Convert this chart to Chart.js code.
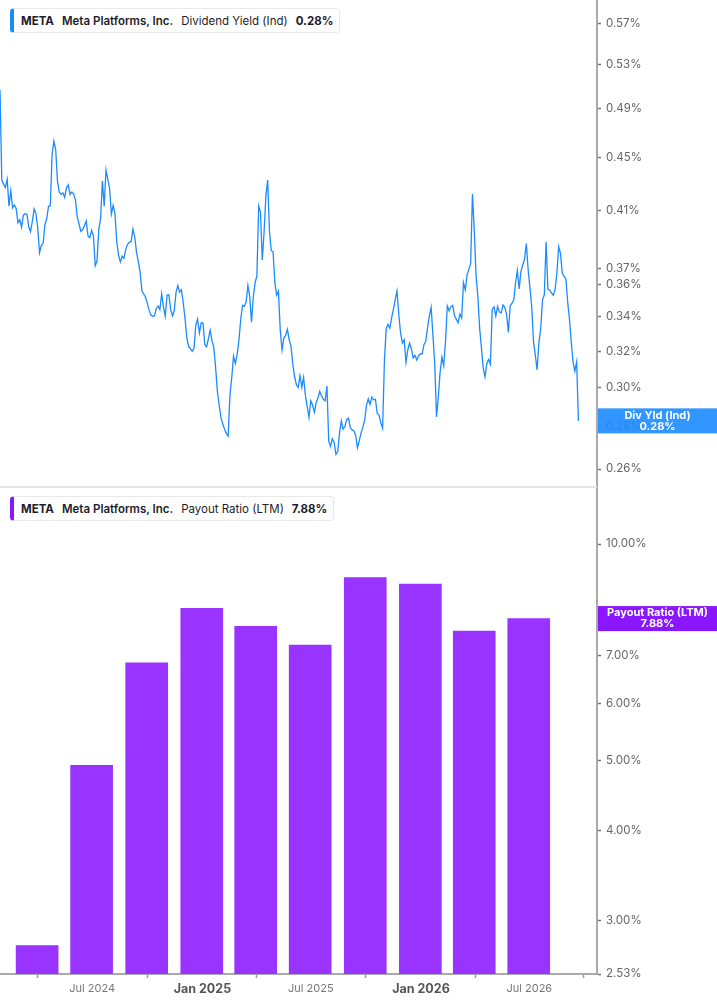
<!DOCTYPE html>
<html>
<head>
<meta charset="utf-8">
<title>META Dividend Yield and Payout Ratio</title>
<script src="https://cdn.jsdelivr.net/npm/chart.js@4.4.1/dist/chart.umd.min.js"></script>
<style>
  html, body { margin: 0; padding: 0; background: #fff; }
  #wrap { position: relative; width: 717px; height: 1005px; overflow: hidden; font-family: Inter, sans-serif; }
  canvas { position: absolute; left: 0; }
  #yieldChart { top: 0; }
  #payoutChart { top: 487px; }
  .sep { position: absolute; left: 0; top: 486px; width: 597px; height: 2px; background: #e3e3e3; }
  .legend {
    position: absolute; left: 10px; height: 25px; box-sizing: border-box;
    display: flex; align-items: center; padding: 0 6px 0 7px;
    background: #fff; border: 1px solid #e8e8e8; border-left: 4px solid; border-radius: 4px;
    font-size: 11.5px; color: #1d1d29; white-space: nowrap;
  }
  .legend span { margin-right: 8px; }
  .legend span:last-child { margin-right: 0; }
  .b { font-weight: 700; }
  .sb { font-weight: 600; }
</style>
</head>
<body>
<div id="wrap">
  <canvas id="yieldChart" width="717" height="487"></canvas>
  <canvas id="payoutChart" width="717" height="518"></canvas>
  <div class="sep"></div>
  <div class="legend" style="top:8px; border-left-color:#1a8cff">
    <span class="b">META</span><span class="sb">Meta Platforms, Inc.</span><span>Dividend Yield (Ind)</span><span class="b">0.28%</span>
  </div>
  <div class="legend" style="top:496px; border-left-color:#8a17ff">
    <span class="b">META</span><span class="sb">Meta Platforms, Inc.</span><span>Payout Ratio (LTM)</span><span class="b">7.88%</span>
  </div>
</div>
<script>
// dividend yield (%), one reading every 3 days from the start date
const yieldStart = '2024-01-29';
const yieldStepDays = 3;
const yieldValues = [
  0.5066, 0.4324, 0.4291, 0.4268, 0.4329, 0.4130, 0.4243, 0.4118, 0.4138, 0.4113,
  0.4011, 0.4032, 0.3980, 0.4065, 0.4075, 0.4071, 0.3982, 0.3948, 0.4021, 0.4110,
  0.4078, 0.3975, 0.3804, 0.3854, 0.3868, 0.3997, 0.4039, 0.4128, 0.4132, 0.4524,
  0.4630, 0.4560, 0.4314, 0.4233, 0.4216, 0.4228, 0.4194, 0.4265, 0.4288, 0.4216,
  0.4233, 0.4219, 0.4176, 0.4051, 0.4002, 0.3951, 0.3961, 0.3989, 0.4023, 0.3918,
  0.3906, 0.3958, 0.3920, 0.3718, 0.3749, 0.3964, 0.4042, 0.4316, 0.4130, 0.4401,
  0.4331, 0.4261, 0.4073, 0.4135, 0.4075, 0.3879, 0.3787, 0.3743, 0.3782, 0.3767,
  0.3827, 0.3861, 0.3875, 0.3879, 0.3966, 0.3913, 0.3807, 0.3745, 0.3677, 0.3556,
  0.3538, 0.3519, 0.3480, 0.3439, 0.3409, 0.3401, 0.3405, 0.3449, 0.3464, 0.3443,
  0.3540, 0.3457, 0.3403, 0.3531, 0.3533, 0.3443, 0.3403, 0.3435, 0.3550, 0.3590,
  0.3550, 0.3564, 0.3484, 0.3389, 0.3275, 0.3226, 0.3213, 0.3198, 0.3215, 0.3350,
  0.3385, 0.3303, 0.3362, 0.3362, 0.3236, 0.3224, 0.3270, 0.3320, 0.3259, 0.3222,
  0.3112, 0.2981, 0.2910, 0.2847, 0.2814, 0.2789, 0.2768, 0.2755, 0.2960, 0.3053,
  0.3172, 0.3131, 0.3177, 0.3261, 0.3383, 0.3468, 0.3462, 0.3488, 0.3592, 0.3523,
  0.3366, 0.3519, 0.3609, 0.3653, 0.4130, 0.4087, 0.3756, 0.3944, 0.4201, 0.4324,
  0.3951, 0.3818, 0.3811, 0.3609, 0.3531, 0.3556, 0.3320, 0.3206, 0.3274, 0.3289,
  0.3324, 0.3264, 0.3226, 0.3127, 0.3057, 0.3016, 0.3002, 0.3064, 0.3002, 0.3055,
  0.2961, 0.2903, 0.2847, 0.2932, 0.2910, 0.2873, 0.2922, 0.2947, 0.2981, 0.2958,
  0.2939, 0.2932, 0.3009, 0.2731, 0.2706, 0.2742, 0.2726, 0.2668, 0.2680, 0.2771,
  0.2830, 0.2789, 0.2802, 0.2837, 0.2844, 0.2797, 0.2785, 0.2781, 0.2757, 0.2699,
  0.2733, 0.2771, 0.2799, 0.2832, 0.2908, 0.2942, 0.2913, 0.2951, 0.2937, 0.2939,
  0.2867, 0.2859, 0.2820, 0.2793, 0.3148, 0.3328, 0.3354, 0.3332, 0.3393, 0.3443,
  0.3504, 0.3556, 0.3411, 0.3303, 0.3245, 0.3264, 0.3137, 0.3206, 0.3245, 0.3213,
  0.3162, 0.3176, 0.3150, 0.3173, 0.3185, 0.3183, 0.3236, 0.3255, 0.3334, 0.3403,
  0.3456, 0.3291, 0.3131, 0.2850, 0.2954, 0.3084, 0.3166, 0.3118, 0.3253, 0.3464,
  0.3435, 0.3459, 0.3468, 0.3407, 0.3385, 0.3363, 0.3415, 0.3391, 0.3609, 0.3564,
  0.3658, 0.3696, 0.3734, 0.4219, 0.3960, 0.3656, 0.3525, 0.3332, 0.3218, 0.3107,
  0.3058, 0.3131, 0.3153, 0.3127, 0.3443, 0.3459, 0.3403, 0.3462, 0.3427, 0.3423,
  0.3470, 0.3456, 0.3413, 0.3307, 0.3465, 0.3482, 0.3501, 0.3609, 0.3688, 0.3570,
  0.3682, 0.3723, 0.3762, 0.3866, 0.3692, 0.3577, 0.3459, 0.3251, 0.3177, 0.3096,
  0.3249, 0.3330, 0.3502, 0.3533, 0.3879, 0.3567, 0.3563, 0.3544, 0.3531, 0.3567,
  0.3671, 0.3845, 0.3800, 0.3671, 0.3649, 0.3634, 0.3490, 0.3385, 0.3251, 0.3139,
  0.3089, 0.3140, 0.2830
];
const yieldTicks = [0.26, 0.28, 0.30, 0.32, 0.34, 0.36, 0.37, 0.41, 0.45, 0.49, 0.53, 0.57];

// payout ratio (LTM, %), quarter ends
const payoutDates = ['2024-03-31', '2024-06-30', '2024-09-30', '2024-12-31', '2025-03-31',
                     '2025-06-30', '2025-09-30', '2025-12-31', '2026-03-31', '2026-06-30'];
const payoutValues = [2.77, 4.93, 6.84, 8.14, 7.69, 7.24, 8.98, 8.80, 7.57, 7.88];
const payoutTicks = [2.53, 3, 4, 5, 6, 7, 8, 10];

const xStart = '2024-01-29';
const xEnd = '2026-10-22';
const xTickDates = ['2024-07-01', '2025-01-01', '2025-07-01', '2026-01-01', '2026-07-01'];
const xTickLabels = ['Jul 2024', 'Jan 2025', 'Jul 2025', 'Jan 2026', 'Jul 2026'];

const DAY = 86400000;
const t0 = Date.parse(yieldStart);
const yieldPoints = yieldValues.map((v, i) => ({ x: t0 + i * yieldStepDays * DAY, y: v }));
const payoutPoints = payoutDates.map((d, i) => ({ x: Date.parse(d), y: payoutValues[i] }));
const xTickTimes = xTickDates.map(d => Date.parse(d));

Chart.defaults.font.family = 'Inter, sans-serif';

function fitRight(scale) {
    scale.width = 120;
    scale.paddingTop = 0;
    scale.paddingBottom = 0;
}

function isJan(ctx) {
    return ctx.tick && xTickLabels[xTickTimes.indexOf(ctx.tick.value)].startsWith('Jan');
}

function yAxis(min, max, tickList) {
    return {
        type: 'logarithmic',
        position: 'right',
        bounds: 'data',   // keep min/max as given, the log ticks would round them
        min: min,
        max: max,
        afterBuildTicks: s => { s.ticks = tickList.map(v => ({ value: v })); },
        afterFit: fitRight,
        ticks: {
            callback: v => Number(v).toFixed(2) + '%',
            color: '#666',
            font: { size: 11.5 },
            padding: 5,
            autoSkip: false
        },
        grid: { drawOnChartArea: false, drawTicks: true, tickLength: 4, tickColor: '#777', tickWidth: 1.5 },
        border: { display: true, color: '#aaa', width: 2 }
    };
}

// coloured value tag sitting on the right axis at the last value
function valueTag(id, title, value, text, color) {
    return {
        id: id,
        afterDraw(chart) {
            const { ctx, chartArea, width } = chart;
            const y = chart.scales.y.getPixelForValue(value);
            const x0 = chartArea.right + 1;
            ctx.save();
            ctx.fillStyle = color;
            ctx.fillRect(x0, y - 12.5, width - x0, 25);
            ctx.fillStyle = '#fff';
            ctx.font = 'bold 11px Inter, sans-serif';
            ctx.textAlign = 'center';
            ctx.textBaseline = 'middle';
            const cx = (x0 + width) / 2;
            ctx.fillText(title, cx, y - 5.5);
            ctx.fillText(text, cx, y + 5.5);
            ctx.restore();
        }
    };
}

new Chart(document.getElementById('yieldChart'), {
    type: 'line',
    data: {
        datasets: [{
            data: yieldPoints,
            borderColor: '#1b8bff',
            borderWidth: 1.3,
            pointRadius: 0,
            pointHoverRadius: 0,
            tension: 0,
            fill: false
        }]
    },
    options: {
        responsive: false,
        animation: false,
        events: [],
        layout: { padding: 0, autoPadding: false },
        plugins: { legend: { display: false }, tooltip: { enabled: false } },
        scales: {
            x: { type: 'linear', min: Date.parse(xStart), max: Date.parse(xEnd), display: false },
            y: yAxis(0.2519, 0.5936, yieldTicks)
        }
    },
    plugins: [valueTag('yieldTag', 'Div Yld (Ind)', yieldValues[yieldValues.length - 1], '0.28%', 'rgba(27,139,255,0.9)')]
});

new Chart(document.getElementById('payoutChart'), {
    type: 'bar',
    data: {
        datasets: [{
            data: payoutPoints,
            backgroundColor: '#9933ff',
            borderWidth: 0,
            barThickness: 42
        }]
    },
    options: {
        responsive: false,
        animation: false,
        events: [],
        layout: { padding: 0, autoPadding: false },
        plugins: { legend: { display: false }, tooltip: { enabled: false } },
        scales: {
            x: {
                type: 'linear',
                min: Date.parse(xStart),
                max: Date.parse(xEnd),
                offset: false,
                afterBuildTicks: s => { s.ticks = xTickTimes.map(v => ({ value: v })); },
                afterFit: s => { s.height = 31; s.paddingLeft = 0; s.paddingRight = 0; },
                ticks: {
                    callback: v => xTickLabels[xTickTimes.indexOf(v)],
                    autoSkip: false,
                    maxRotation: 0,
                    padding: 4,
                    color: c => isJan(c) ? '#555' : '#777',
                    font: c => isJan(c) ? { size: 12.5, weight: 'bold' } : { size: 11 }
                },
                grid: { drawOnChartArea: false, drawTicks: true, tickLength: 4, tickColor: '#999', tickWidth: 1.5 },
                border: { display: true, color: '#aaa', width: 2 }
            },
            y: yAxis(2.53, 12.0, payoutTicks)
        }
    },
    plugins: [valueTag('payoutTag', 'Payout Ratio (LTM)', payoutValues[payoutValues.length - 1], '7.88%', '#8a17ff')]
});
</script>
</body>
</html>
